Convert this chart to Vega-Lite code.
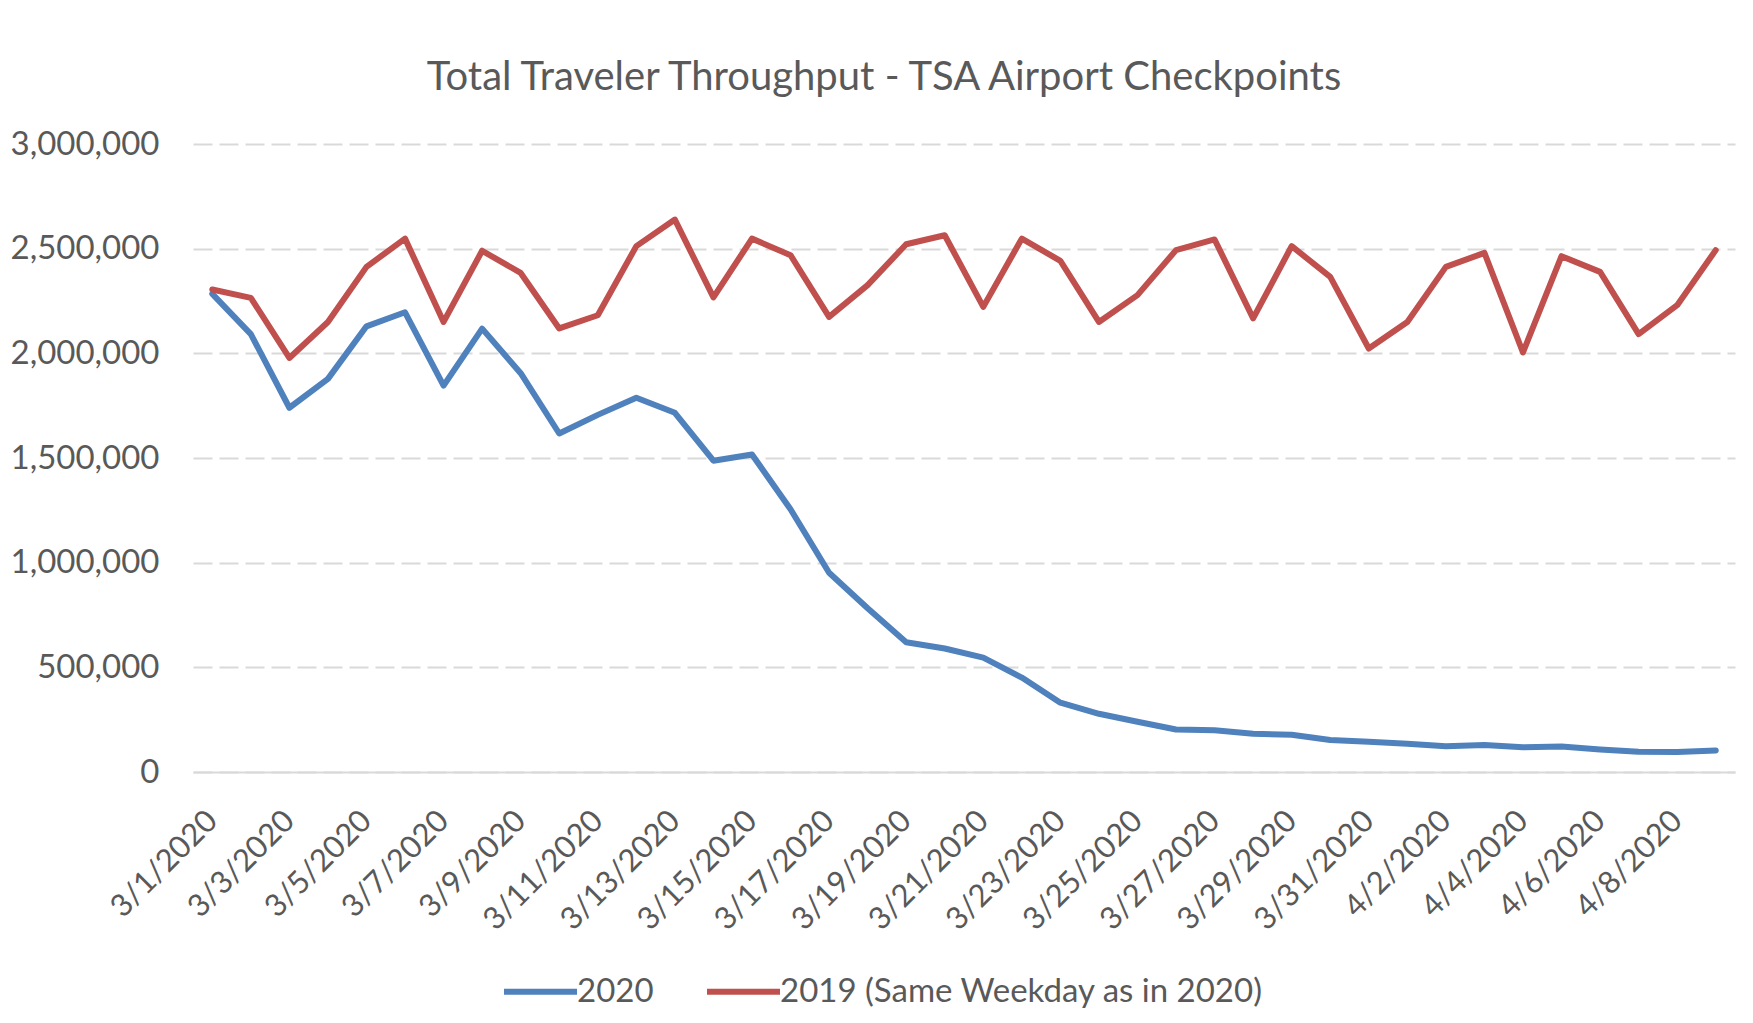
{
  "$schema": "https://vega.github.io/schema/vega-lite/v6.json",
  "autosize": {"type": "none"},
  "padding": {"left": 193, "top": 144, "right": 18, "bottom": 251},
  "width": 1542,
  "height": 628,
  "background": "white",
  "title": {
    "text": "Total Traveler Throughput - TSA Airport Checkpoints",
    "font": "Lato",
    "fontSize": 40,
    "fontWeight": "normal",
    "color": "#595959",
    "anchor": "middle",
    "dx": -80,
    "offset": 30
  },
  "datasets": {
    "tsa": [
      {"date": "3/1/2020", "series": "2020", "travelers": 2284000},
      {"date": "3/2/2020", "series": "2020", "travelers": 2092000},
      {"date": "3/3/2020", "series": "2020", "travelers": 1740000},
      {"date": "3/4/2020", "series": "2020", "travelers": 1878000},
      {"date": "3/5/2020", "series": "2020", "travelers": 2129000},
      {"date": "3/6/2020", "series": "2020", "travelers": 2196000},
      {"date": "3/7/2020", "series": "2020", "travelers": 1846000},
      {"date": "3/8/2020", "series": "2020", "travelers": 2118000},
      {"date": "3/9/2020", "series": "2020", "travelers": 1905000},
      {"date": "3/10/2020", "series": "2020", "travelers": 1617000},
      {"date": "3/11/2020", "series": "2020", "travelers": 1706000},
      {"date": "3/12/2020", "series": "2020", "travelers": 1788000},
      {"date": "3/13/2020", "series": "2020", "travelers": 1716000},
      {"date": "3/14/2020", "series": "2020", "travelers": 1487000},
      {"date": "3/15/2020", "series": "2020", "travelers": 1517000},
      {"date": "3/16/2020", "series": "2020", "travelers": 1255000},
      {"date": "3/17/2020", "series": "2020", "travelers": 952000},
      {"date": "3/18/2020", "series": "2020", "travelers": 782000},
      {"date": "3/19/2020", "series": "2020", "travelers": 620000},
      {"date": "3/20/2020", "series": "2020", "travelers": 590000},
      {"date": "3/21/2020", "series": "2020", "travelers": 546000},
      {"date": "3/22/2020", "series": "2020", "travelers": 451000},
      {"date": "3/23/2020", "series": "2020", "travelers": 331000},
      {"date": "3/24/2020", "series": "2020", "travelers": 278000},
      {"date": "3/25/2020", "series": "2020", "travelers": 240000},
      {"date": "3/26/2020", "series": "2020", "travelers": 203000},
      {"date": "3/27/2020", "series": "2020", "travelers": 199000},
      {"date": "3/28/2020", "series": "2020", "travelers": 183000},
      {"date": "3/29/2020", "series": "2020", "travelers": 178000},
      {"date": "3/30/2020", "series": "2020", "travelers": 153000},
      {"date": "3/31/2020", "series": "2020", "travelers": 145000},
      {"date": "4/1/2020", "series": "2020", "travelers": 135000},
      {"date": "4/2/2020", "series": "2020", "travelers": 123000},
      {"date": "4/3/2020", "series": "2020", "travelers": 129000},
      {"date": "4/4/2020", "series": "2020", "travelers": 118000},
      {"date": "4/5/2020", "series": "2020", "travelers": 122000},
      {"date": "4/6/2020", "series": "2020", "travelers": 108000},
      {"date": "4/7/2020", "series": "2020", "travelers": 97000},
      {"date": "4/8/2020", "series": "2020", "travelers": 95000},
      {"date": "4/9/2020", "series": "2020", "travelers": 103000},
      {"date": "3/1/2020", "series": "2019 (Same Weekday as in 2020)", "travelers": 2305000},
      {"date": "3/2/2020", "series": "2019 (Same Weekday as in 2020)", "travelers": 2265000},
      {"date": "3/3/2020", "series": "2019 (Same Weekday as in 2020)", "travelers": 1978000},
      {"date": "3/4/2020", "series": "2019 (Same Weekday as in 2020)", "travelers": 2150000},
      {"date": "3/5/2020", "series": "2019 (Same Weekday as in 2020)", "travelers": 2413000},
      {"date": "3/6/2020", "series": "2019 (Same Weekday as in 2020)", "travelers": 2548000},
      {"date": "3/7/2020", "series": "2019 (Same Weekday as in 2020)", "travelers": 2150000},
      {"date": "3/8/2020", "series": "2019 (Same Weekday as in 2020)", "travelers": 2490000},
      {"date": "3/9/2020", "series": "2019 (Same Weekday as in 2020)", "travelers": 2384000},
      {"date": "3/10/2020", "series": "2019 (Same Weekday as in 2020)", "travelers": 2119000},
      {"date": "3/11/2020", "series": "2019 (Same Weekday as in 2020)", "travelers": 2182000},
      {"date": "3/12/2020", "series": "2019 (Same Weekday as in 2020)", "travelers": 2512000},
      {"date": "3/13/2020", "series": "2019 (Same Weekday as in 2020)", "travelers": 2639000},
      {"date": "3/14/2020", "series": "2019 (Same Weekday as in 2020)", "travelers": 2267000},
      {"date": "3/15/2020", "series": "2019 (Same Weekday as in 2020)", "travelers": 2548000},
      {"date": "3/16/2020", "series": "2019 (Same Weekday as in 2020)", "travelers": 2469000},
      {"date": "3/17/2020", "series": "2019 (Same Weekday as in 2020)", "travelers": 2174000},
      {"date": "3/18/2020", "series": "2019 (Same Weekday as in 2020)", "travelers": 2326000},
      {"date": "3/19/2020", "series": "2019 (Same Weekday as in 2020)", "travelers": 2521000},
      {"date": "3/20/2020", "series": "2019 (Same Weekday as in 2020)", "travelers": 2564000},
      {"date": "3/21/2020", "series": "2019 (Same Weekday as in 2020)", "travelers": 2222000},
      {"date": "3/22/2020", "series": "2019 (Same Weekday as in 2020)", "travelers": 2548000},
      {"date": "3/23/2020", "series": "2019 (Same Weekday as in 2020)", "travelers": 2442000},
      {"date": "3/24/2020", "series": "2019 (Same Weekday as in 2020)", "travelers": 2150000},
      {"date": "3/25/2020", "series": "2019 (Same Weekday as in 2020)", "travelers": 2278000},
      {"date": "3/26/2020", "series": "2019 (Same Weekday as in 2020)", "travelers": 2493000},
      {"date": "3/27/2020", "series": "2019 (Same Weekday as in 2020)", "travelers": 2544000},
      {"date": "3/28/2020", "series": "2019 (Same Weekday as in 2020)", "travelers": 2167000},
      {"date": "3/29/2020", "series": "2019 (Same Weekday as in 2020)", "travelers": 2512000},
      {"date": "3/30/2020", "series": "2019 (Same Weekday as in 2020)", "travelers": 2365000},
      {"date": "3/31/2020", "series": "2019 (Same Weekday as in 2020)", "travelers": 2023000},
      {"date": "4/1/2020", "series": "2019 (Same Weekday as in 2020)", "travelers": 2150000},
      {"date": "4/2/2020", "series": "2019 (Same Weekday as in 2020)", "travelers": 2413000},
      {"date": "4/3/2020", "series": "2019 (Same Weekday as in 2020)", "travelers": 2480000},
      {"date": "4/4/2020", "series": "2019 (Same Weekday as in 2020)", "travelers": 2004000},
      {"date": "4/5/2020", "series": "2019 (Same Weekday as in 2020)", "travelers": 2464000},
      {"date": "4/6/2020", "series": "2019 (Same Weekday as in 2020)", "travelers": 2389000},
      {"date": "4/7/2020", "series": "2019 (Same Weekday as in 2020)", "travelers": 2092000},
      {"date": "4/8/2020", "series": "2019 (Same Weekday as in 2020)", "travelers": 2230000},
      {"date": "4/9/2020", "series": "2019 (Same Weekday as in 2020)", "travelers": 2493000}
    ]
  },
  "data": {"name": "tsa"},
  "mark": {"type": "line", "strokeWidth": 6, "strokeJoin": "round", "strokeCap": "round"},
  "encoding": {
    "x": {
      "field": "date",
      "type": "ordinal",
      "sort": null,
      "scale": {"type": "point", "padding": 0.5},
      "axis": {
        "title": null,
        "values": ["3/1/2020", "3/3/2020", "3/5/2020", "3/7/2020", "3/9/2020", "3/11/2020", "3/13/2020", "3/15/2020", "3/17/2020", "3/19/2020", "3/21/2020", "3/23/2020", "3/25/2020", "3/27/2020", "3/29/2020", "3/31/2020", "4/2/2020", "4/4/2020", "4/6/2020", "4/8/2020"],
        "labelAngle": -45,
        "labelAlign": "right",
        "labelBaseline": "middle",
        "labelPadding": 44,
        "labelFont": "Lato",
        "labelFontSize": 31,
        "labelColor": "#595959",
        "ticks": false,
        "grid": false,
        "domain": true,
        "domainColor": "#d9d9d9",
        "domainWidth": 2.2,
        "labelOverlap": false
      }
    },
    "y": {
      "field": "travelers",
      "type": "quantitative",
      "scale": {"domain": [0, 3000000], "nice": false},
      "axis": {
        "title": null,
        "values": [0, 500000, 1000000, 1500000, 2000000, 2500000, 3000000],
        "format": ",d",
        "labelFont": "Lato",
        "labelFontSize": 33,
        "labelColor": "#595959",
        "labelPadding": 34,
        "ticks": false,
        "domain": false,
        "grid": true,
        "gridColor": "#d9d9d9",
        "gridWidth": 2.2,
        "gridDash": [19, 7]
      }
    },
    "color": {
      "field": "series",
      "type": "nominal",
      "scale": {
        "domain": ["2020", "2019 (Same Weekday as in 2020)"],
        "range": ["#4F81BD", "#C0504D"]
      },
      "legend": {
        "title": null,
        "orient": "none",
        "direction": "horizontal",
        "legendX": 308,
        "legendY": 808,
        "symbolType": "stroke",
        "symbolSize": 5329,
        "symbolStrokeWidth": 6,
        "labelFont": "Lato",
        "labelFontSize": 33,
        "labelColor": "#595959",
        "labelOffset": -3,
        "columnPadding": 41,
        "labelLimit": 0
      }
    }
  },
  "config": {"view": {"stroke": null}}
}
